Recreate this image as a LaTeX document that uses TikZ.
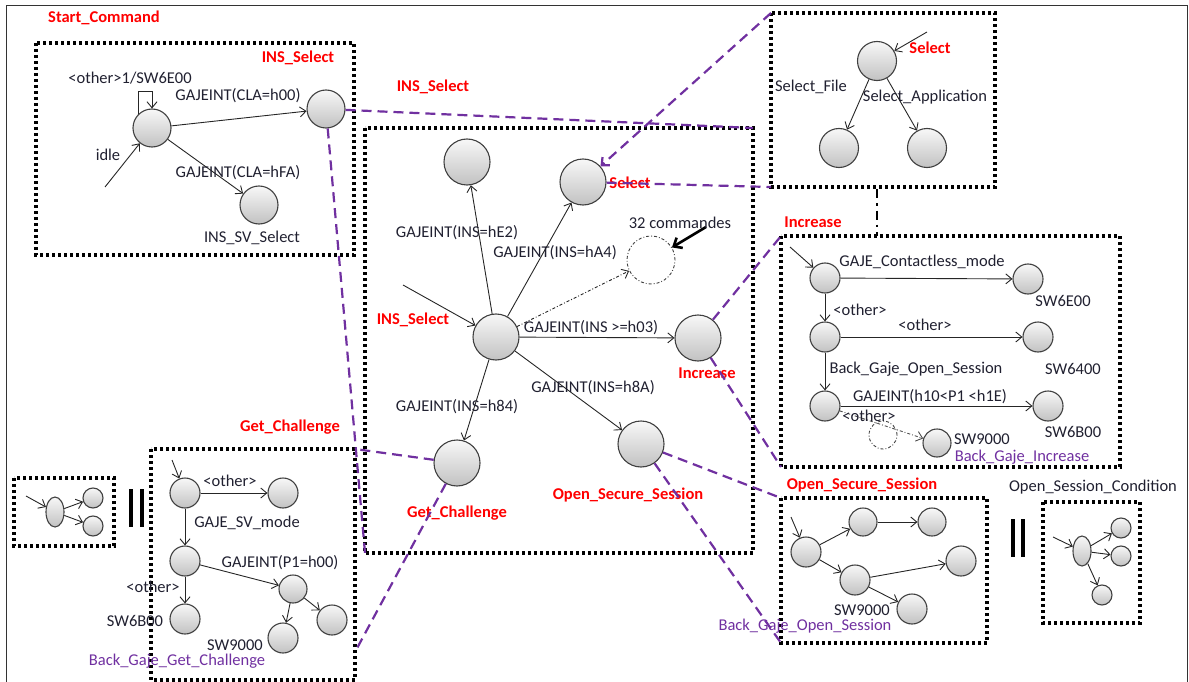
\documentclass[tikz,border=0pt]{standalone}
\usepackage{fontspec}
\setmainfont{Carlito}
\usetikzlibrary{arrows.meta,shapes.geometric}
\definecolor{pur}{HTML}{7030A0}
\definecolor{txt}{HTML}{202030}
\begin{document}
\begin{tikzpicture}[x=1pt,y=-1pt,
  every node/.style={font=\fontsize{16.5}{18}\selectfont, text=txt},
  st/.style={circle, draw=black!75, line width=1.1pt, top color=gray!6, bottom color=gray!48, inner sep=0pt, minimum size=#1},
  st/.default=46,
  el/.style={ellipse, draw=black!75, line width=1.1pt, top color=gray!6, bottom color=gray!48, inner sep=0pt, minimum width=18, minimum height=30},
  ghost/.style={circle, draw=black!75, line width=0.9pt, dash dot, inner sep=0pt, minimum size=#1},
  dotbox/.style={draw=black, line width=3.2pt, dash pattern=on 3pt off 3pt},
  pdash/.style={draw=pur, line width=2.2pt, dash pattern=on 10pt off 6pt},
  tr/.style={draw=black!85, line width=0.9pt, -{Straight Barb[length=6pt,width=10pt]}},
  rl/.style={text=red, font=\fontsize{16.5}{18}\selectfont\bfseries},
  pl/.style={text=pur},
  bars/.style={draw=black, line width=3.2pt}
]
\useasboundingbox (0,0) rectangle (1189,682);
% outer frame
\draw[black!80, line width=1pt] (6,700) -- (6,6) -- (1187,6) -- (1187,700);

% ---------- box corners ----------
\coordinate (tlA) at (36,43);   \coordinate (tlB) at (354,255);
\coordinate (cA) at (365,128);  \coordinate (cB) at (753,553);
\coordinate (cNE) at (753,128); \coordinate (cSW) at (365,553);
\coordinate (trA) at (771,13);  \coordinate (trB) at (995,187);
\coordinate (trSW) at (771,187);
\coordinate (inA) at (781,236); \coordinate (inB) at (1120,467);
\coordinate (inSW) at (781,467);
\coordinate (osA) at (781,498); \coordinate (osB) at (987,643);
\coordinate (osSW) at (781,643);
\coordinate (ocA) at (1043,502); \coordinate (ocB) at (1140,623);
\coordinate (gbA) at (151,449); \coordinate (gbB) at (355,680);
\coordinate (gbNE) at (355,449); \coordinate (gbR) at (355,652);
\coordinate (sbA) at (14,478); \coordinate (sbB) at (114,546);

\draw[dotbox] (tlA) rectangle (tlB);
\draw[dotbox] (cA) rectangle (cB);
\draw[dotbox] (trA) rectangle (trB);
\draw[dotbox] (inA) rectangle (inB);
\draw[dotbox] (osA) rectangle (osB);
\draw[dotbox] (ocA) rectangle (ocB);
\draw[dotbox] (gbA) rectangle (gbB);
\draw[dotbox] (sbA) rectangle (sbB);

% ---------- top-left: Start_Command ----------
\node[rl] (lsc) at (104,18) {Start\_Command};
\node[rl] (lis) at (298,58) {INS\_Select};
\node[st=38] (idle) at (152,128) {};
\node[st=38] (ins) at (326,109) {};
\node[st=38] (insv) at (259,205) {};
\coordinate (lp) at (152,91);
\coordinate (idlein) at (105,187);
\draw[tr] (idle.135) |- (lp) -- (idle.north);
\draw[tr] (idlein) -- (idle);
\draw[tr] (idle) -- (ins);
\draw[tr] (idle) -- (insv);
\node (l1) at (130,78) {<other>1/SW6E00};
\node (l2) at (108,155) {idle};
\node (l3) at (238,96) {GAJEINT(CLA=h00)};
\node (l4) at (238,173) {GAJEINT(CLA=hFA)};
\node (l5) at (252,238) {INS\_SV\_Select};
\node[rl] (lis2) at (433,87) {INS\_Select};

% ---------- centre ----------
\node[st] (e2) at (467,162) {};
\node[st] (sel) at (583,182) {};
\node[ghost=48] (c32) at (651,260) {};
\node[st] (c) at (496,337) {};
\node[st] (inc) at (698,338) {};
\node[st] (gc) at (457,463) {};
\node[st] (oss) at (641,444) {};
\coordinate (cin) at (403,285);
\coordinate (a32) at (706,227);
\draw[tr] (cin) -- (c);
\draw[tr] (c) -- (e2);
\draw[tr] (c) -- (sel);
\draw[tr, dash dot] (c) -- (c32);
\draw[tr] (c) -- (inc);
\draw[tr] (c) -- (gc);
\draw[tr] (c) -- (oss);
\draw[draw=black, line width=2.6pt, -{Straight Barb[length=7pt,width=12pt]}] (a32) -- (c32);
\node[rl] (lsel) at (630,183) {Select};
\node (l32) at (680,223) {32 commandes};
\node (le2) at (457,233) {GAJEINT(INS=hE2)};
\node (la4) at (555,253) {GAJEINT(INS=hA4)};
\node[rl] (lis3) at (413,320) {INS\_Select};
\node (l03) at (591,328) {GAJEINT(INS >=h03)};
\node[rl] (linc) at (707,373) {Increase};
\node (l8a) at (593,388) {GAJEINT(INS=h8A)};
\node (l84) at (457,407) {GAJEINT(INS=h84)};
\node[rl] (lgc) at (457,513) {Get\_Challenge};
\node[rl] (loss) at (628,495) {Open\_Secure\_Session};

% ---------- top-right: Select ----------
\node[st=39] (s0) at (877,61) {};
\node[st=39] (sf) at (839,148) {};
\node[st=39] (sa) at (927,148) {};
\coordinate (sin) at (927,32);
\draw[tr] (sin) -- (s0);
\draw[tr] (s0) -- (sf);
\draw[tr] (s0) -- (sa);
\node[rl] (lsel2) at (930,48) {Select};
\node (lsf) at (811,87) {Select\_File};
\node (lsa) at (925,97) {Select\_Application};
\coordinate (vd1) at (877,189);
\coordinate (vd2) at (877,236);
\draw[black, line width=2.6pt, dash pattern=on 9pt off 5pt on 2.6pt off 5pt] (vd1) -- (vd2);

% ---------- Increase ----------
\node[rl] (linc2) at (813,222) {Increase};
\node[st=30] (n1) at (825,278) {};
\node[st=30] (n2) at (825,337) {};
\node[st=30] (n3) at (825,406) {};
\node[st=30] (m1) at (1028,279) {};
\node[st=30] (m2) at (1038,337) {};
\node[st=30] (m3) at (1048,406) {};
\node[ghost=28] (gh) at (883,435) {};
\node[st=28] (m4) at (937,443) {};
\coordinate (nin) at (790,247);
\draw[tr] (nin) -- (n1);
\draw[tr] (n1) -- (m1);
\draw[tr] (n1) -- (n2);
\draw[tr] (n2) -- (m2);
\draw[tr] (n2) -- (n3);
\draw[tr] (n3) -- (m3);
\draw[tr, dash dot, draw=black!70] (n3) -- (m4);
\node (i1) at (922,262) {GAJE\_Contactless\_mode};
\node (i2) at (1063,301) {SW6E00};
\node (i3) at (860,310) {<other>};
\node (i4) at (925,325) {<other>};
\node (i5) at (916,369) {Back\_Gaje\_Open\_Session};
\node (i6) at (1073,369) {SW6400};
\node (i7) at (930,397) {GAJEINT(h10<P1 <h1E)};
\node (i8) at (869,416) {<other>};
\node (i9) at (982,439) {SW9000};
\node (i10) at (1073,432) {SW6B00};
\node[pl] (i11) at (1022,457) {Back\_Gaje\_Increase};

% ---------- Open_Secure_Session ----------
\node[rl] (loss2) at (862,485) {Open\_Secure\_Session};
\node[st=30] (oa) at (806,552) {};
\node[st=28] (ob) at (863,522) {};
\node[st=28] (oc) at (932,522) {};
\node[st=30] (od) at (855,580) {};
\node[st=30] (oe) at (961,561) {};
\node[st=30] (of) at (912,609) {};
\coordinate (oin) at (791,517);
\draw[tr] (oin) -- (oa);
\draw[tr] (oa) -- (ob);
\draw[tr] (ob) -- (oc);
\draw[tr] (oa) -- (od);
\draw[tr] (od) -- (oe);
\draw[tr] (od) -- (of);
\node (o1) at (862,610) {SW9000};
\node[pl] (o2) at (805,626) {Back\_Gaje\_Open\_Session};

\coordinate (b1a) at (1013,519); \coordinate (b1b) at (1013,557);
\coordinate (b2a) at (1023,519); \coordinate (b2b) at (1023,557);
\draw[bars] (b1a) -- (b1b);
\draw[bars] (b2a) -- (b2b);
\node (osc) at (1093,487) {Open\_Session\_Condition};
\node[el] (q0) at (1082,551) {};
\node[st=20] (q1) at (1121,528) {};
\node[st=20] (q2) at (1121,556) {};
\node[st=20] (q3) at (1102,595) {};
\coordinate (qin) at (1053,537);
\draw[tr] (qin) -- (q0);
\draw[tr] (q0) -- (q1);
\draw[tr] (q0) -- (q2);
\draw[tr] (q0) -- (q3);

% ---------- bottom-left ----------
\node[el] (p0) at (55,512) {};
\node[st=20] (p1) at (93,498) {};
\node[st=20] (p2) at (93,526) {};
\coordinate (pin) at (26,496);
\draw[tr] (pin) -- (p0);
\draw[tr] (p0) -- (p1);
\draw[tr] (p0) -- (p2);
\coordinate (b3a) at (131,489); \coordinate (b3b) at (131,527);
\coordinate (b4a) at (142,489); \coordinate (b4b) at (142,527);
\draw[bars] (b3a) -- (b3b);
\draw[bars] (b4a) -- (b4b);

\node[rl] (lgc2) at (290,427) {Get\_Challenge};
\node[st=30] (g1) at (185,493) {};
\node[st=30] (g2) at (283,493) {};
\node[st=30] (g3) at (185,561) {};
\node[st=30] (g4) at (185,619) {};
\node[st=28] (g5) at (293,589) {};
\node[st=30] (g6) at (283,638) {};
\node[st=30] (g7) at (332,620) {};
\coordinate (gin) at (172,460);
\draw[tr] (gin) -- (g1);
\draw[tr] (g1) -- (g2);
\draw[tr] (g1) -- (g3);
\draw[tr] (g3) -- (g4);
\draw[tr] (g3) -- (g5);
\draw[tr] (g5) -- (g6);
\draw[tr] (g5) -- (g7);
\node (k1) at (230,481) {<other>};
\node (k2) at (247,523) {GAJE\_SV\_mode};
\node (k3) at (280,563) {GAJEINT(P1=h00)};
\node (k4) at (153,587) {<other>};
\node (k5) at (135,621) {SW6B00};
\node (k6) at (235,645) {SW9000};
\node[pl] (k7) at (177,661) {Back\_Gaje\_Get\_Challenge};

% ---------- purple dashed links ----------
\draw[pdash] (ins) -- (cNE);
\draw[pdash] (ins) -- (cSW);
\draw[pdash, -{Straight Barb[length=6pt,width=11pt]}] (trA) -- (sel);
\draw[pdash] (sel) -- (trSW);
\draw[pdash] (inc) -- (inA);
\draw[pdash] (inc) -- (inSW);
\draw[pdash] (oss) -- (osA);
\draw[pdash] (oss) -- (osSW);
\draw[pdash] (gc) -- (gbNE);
\draw[pdash] (gc) -- (gbR);
\end{tikzpicture}
\end{document}
